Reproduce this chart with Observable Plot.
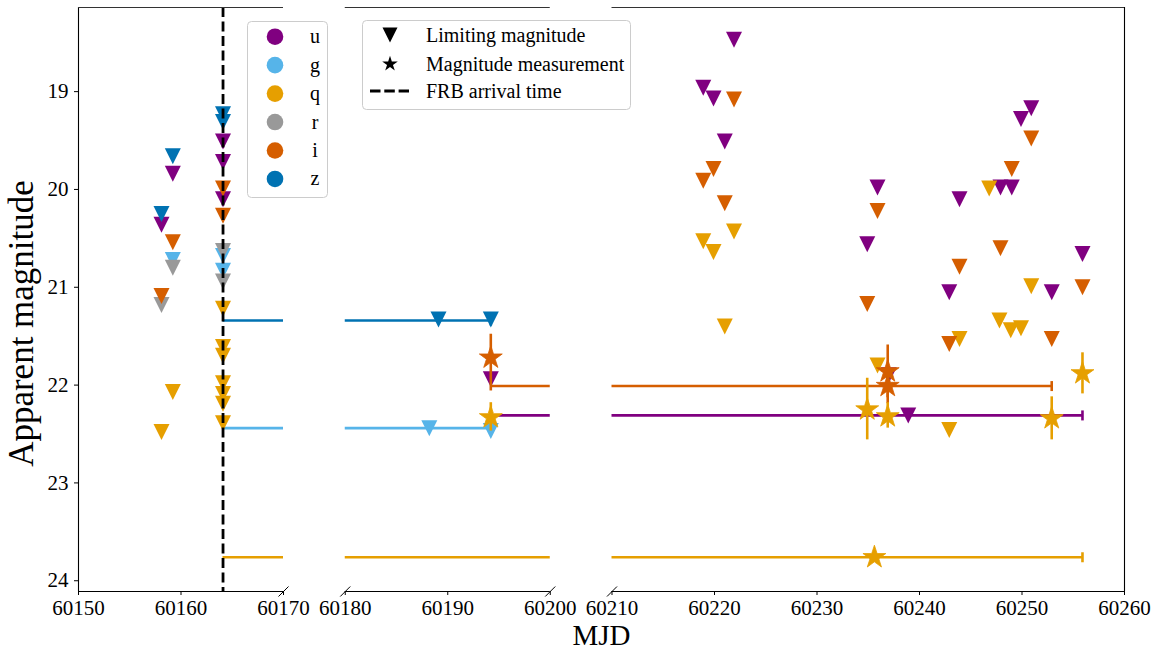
<!DOCTYPE html>
<html><head><meta charset="utf-8">
<script src="https://cdn.jsdelivr.net/npm/d3@7"></script>
<script src="https://cdn.jsdelivr.net/npm/@observablehq/plot@0.6"></script>
<style>
body{margin:0;background:#fff;}
#wrap{position:relative;width:1161px;height:652px;font-family:"Liberation Serif","Times New Roman",serif;}
</style></head><body><div id="wrap"></div>
<script>
// ---------- data ----------
const bands = ["u", "g", "q", "r", "i", "z"];
const bandColors = ["#800080", "#56B4E9", "#E69F00", "#999999", "#D55E00", "#0072B2"];
const frbMjd = 60164.1;
const panels = [[60150, 60170], [60180, 60200], [60210, 60260]];
const magDomain = [18.14, 24.11];
const magTicks = [19, 20, 21, 22, 23, 24];
const mjdTicks = [60150, 60160, 60170, 60180, 60190, 60200, 60210, 60220, 60230, 60240, 60250, 60260];

// limiting magnitudes [MJD, mag]
const uLimits = [[60158.1, 20.36], [60159.2, 19.84], [60164.1, 19.51], [60164.1, 19.72], [60164.1, 20.10],
  [60194.2, 21.94], [60218.9, 18.96], [60219.9, 19.07], [60221.0, 19.51], [60221.9, 18.47],
  [60234.9, 20.56], [60235.9, 19.98], [60237.0, 21.90], [60238.9, 22.31], [60242.9, 21.05],
  [60243.9, 20.10], [60247.9, 19.98], [60249.0, 19.98], [60249.9, 19.28], [60250.9, 19.17],
  [60252.9, 21.05], [60255.9, 20.66]];
const gLimits = [[60159.2, 20.72], [60164.1, 20.68], [60164.1, 20.83], [60188.2, 22.44], [60194.2, 22.47]];
const qLimits = [[60158.1, 22.48], [60159.2, 22.07], [60164.1, 21.22], [60164.1, 21.61], [60164.1, 21.70],
  [60164.1, 21.98], [60164.1, 22.09], [60164.1, 22.19], [60164.1, 22.39], [60218.9, 20.53],
  [60219.9, 20.64], [60221.0, 21.40], [60221.9, 20.43], [60235.9, 21.80], [60242.9, 22.46],
  [60243.9, 21.53], [60246.8, 19.99], [60247.8, 21.34], [60248.9, 21.44], [60249.9, 21.42], [60250.9, 20.99]];
const rLimits = [[60158.1, 21.18], [60159.2, 20.80], [60164.1, 20.63], [60164.1, 20.94]];
const iLimits = [[60158.1, 21.09], [60159.2, 20.54], [60164.1, 19.99], [60164.1, 20.27], [60218.9, 19.91],
  [60219.9, 19.79], [60221.0, 20.14], [60221.9, 19.08], [60234.9, 21.17], [60235.9, 20.22],
  [60242.9, 21.58], [60243.9, 20.79], [60247.9, 20.60], [60249.0, 19.79], [60250.9, 19.48],
  [60252.9, 21.53], [60255.9, 21.00]];
const zLimits = [[60158.1, 20.25], [60159.2, 19.66], [60164.1, 19.23], [60164.1, 19.31], [60189.1, 21.33], [60194.2, 21.33]];

// magnitude measurements [band, MJD, mag, magLow, magHigh]
const detections = [
  ["i", 60194.2, 21.72, 21.48, 22.06],
  ["q", 60194.2, 22.33, 22.18, 22.47],
  ["q", 60234.9, 22.25, 21.93, 22.56],
  ["q", 60235.6, 23.76, 23.76, 23.76],
  ["i", 60236.9, 21.86, 21.59, 22.13],
  ["i", 60236.9, 22.01, 21.83, 22.19],
  ["q", 60236.9, 22.32, 22.18, 22.44],
  ["q", 60252.9, 22.34, 22.12, 22.56],
  ["q", 60255.9, 21.88, 21.67, 22.09]
];

// horizontal bars [band, mag, fromMJD, toMJD]
const spanBars = [
  ["z", 21.34, 60164.1, 60194.2],
  ["g", 22.44, 60164.1, 60194.2],
  ["q", 23.76, 60164.1, 60255.9],
  ["i", 22.01, 60194.2, 60252.9],
  ["u", 22.31, 60194.2, 60255.9]
];

// ---------- derived tables ----------
const limitSets = {u: uLimits, g: gLimits, q: qLimits, r: rLimits, i: iLimits, z: zLimits};
const limits = bands.flatMap(b => limitSets[b].map(([mjd, mag]) => ({band: b, mjd, mag})));
const dets = detections.map(([band, mjd, mag, lo, hi]) => ({band, mjd, mag, lo, hi}));
const bars = spanBars.map(([band, mag, from, to]) => ({band, mag, from, to}));
const barSegments = bars.flatMap(b => panels
  .map(([p0, p1]) => ({band: b.band, mag: b.mag, x1: Math.max(b.from, p0), x2: Math.min(b.to, p1)}))
  .filter(s => s.x1 < s.x2));
const breakPoints = panels.flatMap(p => p).slice(1, -1);

// broken-axis transform: the gap between panels is drawn narrower than its span in days
const pxPerDay = 10.25, gapPx = 61.75;
const gapDays = gapPx / pxPerDay;
function brk(m) {
  let off = 0;
  for (let k = 1; k < panels.length; k++) {
    if (m >= panels[k][0]) off += (panels[k][0] - panels[k - 1][1]) - gapDays;
  }
  return m - off;
}
const tickLabelOf = new Map(mjdTicks.map(t => [brk(t).toFixed(6), String(t)]));

// custom symbols
const triDown = {draw(ctx, size) { const r = Math.sqrt(size / Math.PI); ctx.moveTo(-r, -r); ctx.lineTo(r, -r); ctx.lineTo(0, r); ctx.closePath(); }};
const vBar = {draw(ctx, size) { const r = Math.sqrt(size / Math.PI); ctx.moveTo(0, -r); ctx.lineTo(0, r); }};
const slash = {draw(ctx, size) { const r = Math.sqrt(size / Math.PI); ctx.moveTo(-r, r); ctx.lineTo(r, -r); }};

const font = '"Liberation Serif", "Times New Roman", serif';

const chart = Plot.plot({
  width: 1161, height: 652,
  marginTop: 7, marginBottom: 61, marginLeft: 78, marginRight: 37,
  style: {fontFamily: font, fontSize: "21px", color: "black", background: "white", overflow: "visible"},
  x: {domain: [brk(panels[0][0]), brk(panels[2][1])], transform: brk},
  y: {domain: magDomain, reverse: true},
  color: {domain: bands, range: bandColors},
  marks: [
    Plot.ruleY(barSegments, {y: "mag", x1: "x1", x2: "x2", stroke: "band", strokeWidth: 2.6}),
    Plot.dot(bars, {x: "to", y: "mag", stroke: "band", fill: "none", symbol: vBar, r: 5, strokeWidth: 2.6}),
    Plot.dot(limits, {x: "mjd", y: "mag", fill: "band", symbol: triDown, r: 8}),
    Plot.ruleX(dets.filter(d => d.hi > d.lo), {x: "mjd", y1: "lo", y2: "hi", stroke: "band", strokeWidth: 2.6}),
    Plot.dot(dets, {x: "mjd", y: "mag", fill: "band", stroke: "band", strokeWidth: 0.8, symbol: "star", r: 7.2}),
    Plot.ruleX([frbMjd], {stroke: "black", strokeWidth: 2.8, strokeDasharray: "10,4.5"}),
    // spines
    Plot.ruleX([panels[0][0]], {y1: magDomain[0], y2: magDomain[1], stroke: "black", strokeWidth: 1.1}),
    Plot.ruleX([panels[2][1]], {y1: magDomain[0], y2: magDomain[1], stroke: "black", strokeWidth: 1.1}),
    Plot.ruleY(panels, {x1: d => d[0], x2: d => d[1], y: () => magDomain[0], stroke: "#333", strokeWidth: 1}),
    Plot.ruleY(panels, {x1: d => d[0], x2: d => d[1], y: () => magDomain[1], stroke: "black", strokeWidth: 1.1}),
    Plot.dot(breakPoints, {x: d => d, y: () => magDomain[1], symbol: slash, r: 5, stroke: "black", fill: "none", strokeWidth: 1}),
    Plot.axisX({ticks: mjdTicks.map(brk), tickFormat: d => tickLabelOf.get(d.toFixed(6)) ?? "", tickSize: 4, tickPadding: 5, label: null, fontSize: 21}),
    Plot.axisY({ticks: magTicks, tickFormat: "d", tickSize: 4, tickPadding: 6, label: null, fontSize: 21}),
    Plot.text(["MJD"], {frameAnchor: "bottom", dy: 53, fontSize: 29}),
    Plot.text(["Apparent magnitude"], {frameAnchor: "left", textAnchor: "middle", dx: -57, dy: 24, rotate: -90, fontSize: 35})
  ]
});
const wrap = document.getElementById("wrap");
wrap.appendChild(chart);

// ---------- legends (overlay) ----------
const leg = d3.select(wrap).append("svg")
  .attr("width", 1161).attr("height", 652)
  .style("position", "absolute").style("left", "0px").style("top", "0px")
  .style("font-family", font);
// filter legend
leg.append("rect").attr("x", 247.5).attr("y", 21.5).attr("width", 80).attr("height", 176).attr("rx", 4)
  .attr("fill", "white").attr("fill-opacity", 0.8).attr("stroke", "#cccccc");
bands.forEach((b, i) => {
  const cy = 36.7 + i * 28.45;
  leg.append("circle").attr("cx", 275).attr("cy", cy).attr("r", 8.3).attr("fill", bandColors[i]);
  leg.append("text").attr("x", 315).attr("y", cy + 6.5).attr("text-anchor", "middle").attr("font-size", 20).text(b);
});
// symbol legend
leg.append("rect").attr("x", 362.5).attr("y", 20.5).attr("width", 268).attr("height", 89).attr("rx", 4)
  .attr("fill", "white").attr("fill-opacity", 0.8).attr("stroke", "#cccccc");
leg.append("path").attr("transform", "translate(390,35)").attr("d", "M-7.5,-7.5L7.5,-7.5L0,7.5Z").attr("fill", "black");
leg.append("path").attr("transform", "translate(390,64)").attr("d", d3.symbol(d3.symbolStar, 75)()).attr("fill", "black");
leg.append("line").attr("x1", 370).attr("x2", 409).attr("y1", 91).attr("y2", 91)
  .attr("stroke", "black").attr("stroke-width", 3).attr("stroke-dasharray", "10.5,3.8");
[["Limiting magnitude", 35], ["Magnitude measurement", 64], ["FRB arrival time", 91]].forEach(([t, y]) => {
  leg.append("text").attr("x", 426).attr("y", y + 6.5).attr("font-size", 20).text(t);
});
</script></body></html>
